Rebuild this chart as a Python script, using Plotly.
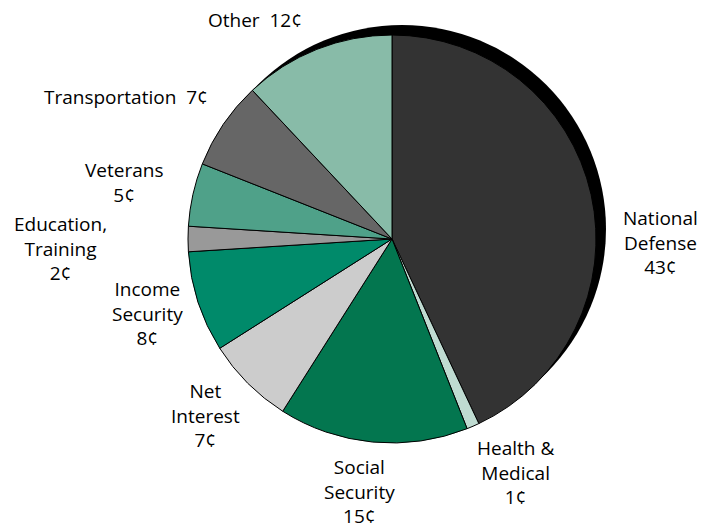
import plotly.graph_objects as go

W, H = 714, 529

categories = ["National Defense", "Health & Medical", "Social Security", "Net Interest",
              "Income Security", "Education, Training", "Veterans", "Transportation", "Other"]
values = [43, 1, 15, 7, 8, 2, 5, 7, 12]
label_texts = ["National<br>Defense<br>43¢", "Health &<br>Medical<br>1¢", "Social<br>Security<br>15¢",
               "Net<br>Interest<br>7¢", "Income<br>Security<br>8¢", "Education,<br>Training<br>2¢",
               "Veterans<br>5¢", "Transportation\u00a0 7¢", "Other\u00a0 12¢"]
colors = ["#333333", "#bfdbd1", "#03764f", "#cccccc", "#008a6a", "#999999",
          "#4fa189", "#666666", "#88bba8"]

# label centres in pixels (x, y from top)
label_pos = [(660, 243), (515, 472), (359, 491), (206, 415), (147, 313),
             (60, 248), (124, 183), (126, 97), (255, 20)]

cx, cy, r = 392, 239, 204

fig = go.Figure()
fig.add_trace(go.Pie(
    labels=categories, values=values, sort=False, direction="clockwise", rotation=0,
    marker=dict(colors=colors, line=dict(color="#000000", width=1)),
    textinfo="none", hoverinfo="label+value", showlegend=False,
    domain=dict(x=[(cx - r) / W, (cx + r) / W], y=[1 - (cy + r) / H, 1 - (cy - r) / H]),
))

fig.add_shape(type="circle", xref="paper", yref="paper", xsizemode="pixel", ysizemode="pixel",
              xanchor=cx / W, yanchor=1 - cy / H,
              x0=-r + 10, x1=r + 10, y0=-r + 10, y1=r + 10,
              fillcolor="#000000", line=dict(width=0), layer="below")

for t, (px, py) in zip(label_texts, label_pos):
    fig.add_annotation(text=t, x=px / W, y=1 - py / H, xref="paper", yref="paper",
                       xanchor="center", yanchor="middle", showarrow=False, align="center",
                       font=dict(family="Open Sans", size=19, color="#000000"))

fig.update_layout(width=W, height=H, margin=dict(l=0, r=0, t=0, b=0),
                  paper_bgcolor="white", plot_bgcolor="white")

fig.write_html("out.html")
